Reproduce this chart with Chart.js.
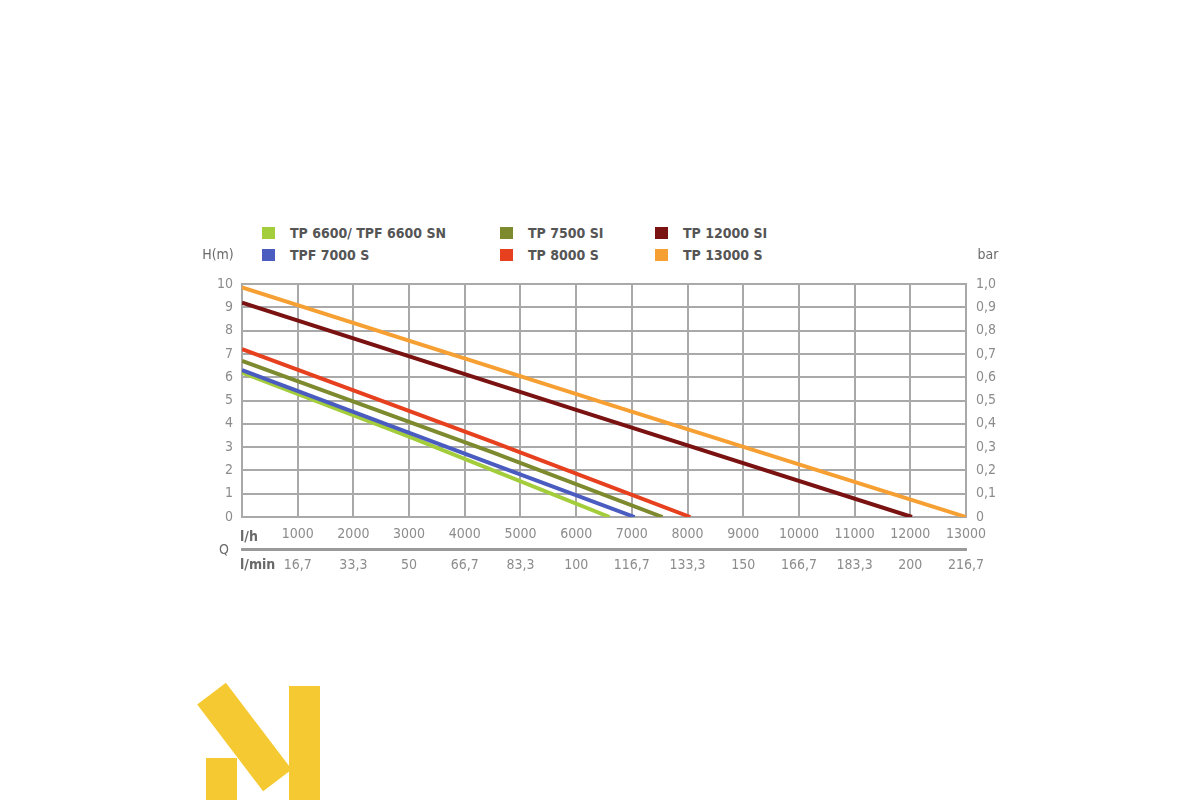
<!DOCTYPE html>
<html lang="en">
<head>
    <meta charset="UTF-8">
    <title>Pump performance curves</title>
    <script src="https://cdn.jsdelivr.net/npm/chart.js"></script>
    <style>
        html, body { margin: 0; padding: 0; background: #fff; }
        body { width: 1200px; height: 800px; position: relative; overflow: hidden;
               font-family: "Liberation Sans Narrow", "DejaVu Sans Condensed", "Liberation Sans", sans-serif; }
        #chartBox { position: absolute; left: 180px; top: 240px; width: 840px; height: 350px; }
        #legend { position: absolute; left: 262px; top: 222px; width: 560px; height: 46px;
                  display: grid; grid-template-columns: 238px 155px 160px; grid-template-rows: 22px 22px;
                  grid-auto-flow: column; font-weight: bold; font-size: 14px; color: #555; }
        #legend div { display: flex; align-items: center; white-space: nowrap; }
        #legend span { display: inline-block; width: 13px; height: 12px; margin-right: 15px; }
        .logo { position: absolute; background: #f5c932; }
    </style>
</head>
<body>
    <div id="legend"></div>
    <div id="chartBox"><canvas id="pumpChart"></canvas></div>

    <!-- logo -->
    <div class="logo" style="left:206px; top:758px; width:31px; height:42px;"></div>
    <div class="logo" style="left:190px; top:719px; width:109px; height:36px; transform: rotate(52.8deg);"></div>
    <div class="logo" style="left:289px; top:686px; width:31px; height:114px;"></div>

    <script>
        // flow in l/h, head in m
        const seriesNames = ['TP 6600/ TPF 6600 SN', 'TPF 7000 S', 'TP 7500 SI', 'TP 8000 S', 'TP 12000 SI', 'TP 13000 S'];
        const seriesColors = ['#a3cd3b', '#4a5cc0', '#7d8a2e', '#e6401e', '#7a1212', '#f6a033'];
        const tp6600 = [[0, 6.2], [3000, 3.45], [6600, 0]];
        const tpf7000 = [[0, 6.3], [4500, 2.27], [7050, 0]];
        const tp7500 = [[0, 6.7], [4500, 2.77], [7550, 0]];
        const tp8000 = [[0, 7.2], [4500, 3.22], [8050, 0]];
        const tp12000 = [[0, 9.2], [6000, 4.6], [12030, 0]];
        const tp13000 = [[0, 9.85], [6500, 4.9], [13000, 0]];
        const seriesData = [tp6600, tpf7000, tp7500, tp8000, tp12000, tp13000];

        const lminLabels = ['16,7', '33,3', '50', '66,7', '83,3', '100', '116,7', '133,3', '150', '166,7', '183,3', '200', '216,7'];
        const barLabels = ['0', '0,1', '0,2', '0,3', '0,4', '0,5', '0,6', '0,7', '0,8', '0,9', '1,0'];

        const FONT = '"Liberation Sans Narrow", "DejaVu Sans Condensed", "Liberation Sans", sans-serif';
        const GRID = '#a9a9a9';
        const TICK = '#8c8c8c';

        // html legend, column by column
        document.getElementById('legend').innerHTML = seriesNames.map((n, i) =>
            `<div><span style="background:${seriesColors[i]}"></span>${n}</div>`).join('');

        const extraLabels = {
            id: 'extraLabels',
            afterDraw(chart) {
                const { ctx, chartArea } = chart;
                ctx.save();
                ctx.textBaseline = 'middle';
                ctx.fillStyle = '#6a6a6a';
                ctx.font = `14px ${FONT}`;
                ctx.textAlign = 'center';
                ctx.fillText('H(m)', chartArea.left - 24, chartArea.top - 29);
                ctx.fillText('bar', chartArea.right + 22, chartArea.top - 29);
                ctx.fillText('Q', chartArea.left - 18, chartArea.bottom + 33);
                ctx.textAlign = 'left';
                ctx.font = `bold 14px ${FONT}`;
                ctx.fillText('l/h', chartArea.left - 2, chartArea.bottom + 20);
                ctx.fillText('l/min', chartArea.left - 2, chartArea.bottom + 48);
                ctx.restore();
            }
        };

        new Chart(document.getElementById('pumpChart'), {
            type: 'line',
            data: {
                datasets: seriesData.map((d, i) => ({
                    label: seriesNames[i],
                    data: d.map(p => ({ x: p[0], y: p[1] })),
                    borderColor: seriesColors[i],
                    backgroundColor: seriesColors[i],
                    borderWidth: 4,
                    pointRadius: 0,
                    tension: 0,
                    order: i < 2 ? 6 - i : i
                }))
            },
            options: {
                responsive: true,
                maintainAspectRatio: false,
                animation: false,
                layout: { padding: { top: 44 } },
                plugins: { legend: { display: false }, tooltip: { enabled: false } },
                scales: {
                    x: {
                        type: 'linear', position: 'bottom', min: 0, max: 13000,
                        afterFit(s) { s.height = 32; },
                        ticks: { stepSize: 1000, autoSkip: false, maxRotation: 0, padding: 9,
                                 color: TICK, font: { family: FONT, size: 14 },
                                 callback: v => v === 0 ? '' : String(v) },
                        grid: { color: GRID, lineWidth: 2, drawTicks: false },
                        border: { color: GRID, width: 2 }
                    },
                    x2: {
                        type: 'linear', position: 'bottom', min: 0, max: 13000,
                        afterFit(s) { s.height = 41; },
                        ticks: { stepSize: 1000, autoSkip: false, maxRotation: 0, padding: 8,
                                 color: TICK, font: { family: FONT, size: 14 },
                                 callback: (v) => v === 0 ? '' : lminLabels[Math.round(v / 1000) - 1] },
                        grid: { display: false, drawTicks: false },
                        border: { color: '#9a9a9a', width: 3 }
                    },
                    y: {
                        position: 'left', min: 0, max: 10,
                        afterFit(s) { s.width = 62; },
                        ticks: { stepSize: 1, padding: 9, color: TICK, font: { family: FONT, size: 14 } },
                        grid: { color: GRID, lineWidth: 2, drawTicks: false },
                        border: { color: GRID, width: 2 }
                    },
                    y2: {
                        position: 'right', min: 0, max: 1,
                        afterFit(s) { s.width = 54; },
                        ticks: { stepSize: 0.1, padding: 10, color: TICK, font: { family: FONT, size: 14 },
                                 callback: (v) => barLabels[Math.round(v * 10)] },
                        grid: { display: false, drawTicks: false },
                        border: { color: GRID, width: 2 }
                    }
                }
            },
            plugins: [extraLabels]
        });
    </script>
</body>
</html>
